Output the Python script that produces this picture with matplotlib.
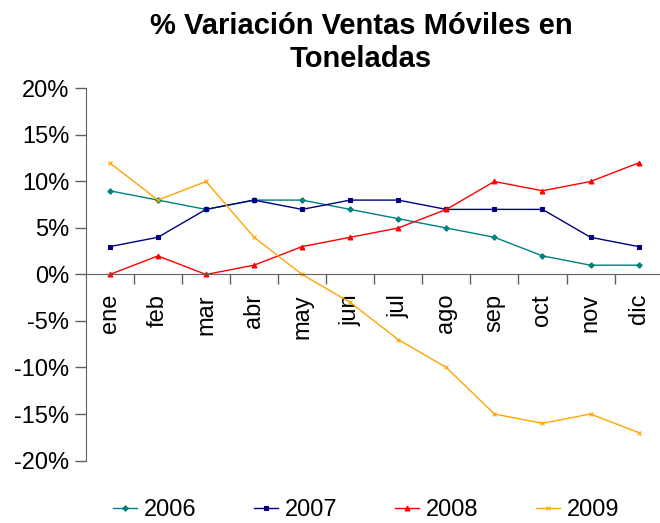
import matplotlib.pyplot as plt
from matplotlib.ticker import FuncFormatter

plt.rcParams['font.family'] = ['Liberation Sans', 'DejaVu Sans']

months = ["ene", "feb", "mar", "abr", "may", "jun",
          "jul", "ago", "sep", "oct", "nov", "dic"]
v2006 = [9, 8, 7, 8, 8, 7, 6, 5, 4, 2, 1, 1]
v2007 = [3, 4, 7, 8, 7, 8, 8, 7, 7, 7, 4, 3]
v2008 = [0, 2, 0, 1, 3, 4, 5, 7, 10, 9, 10, 12]
v2009 = [12, 8, 10, 4, 0, -3, -7, -10, -15, -16, -15, -17]
years = ["2006", "2007", "2008", "2009"]
y_ticks = [-20, -15, -10, -5, 0, 5, 10, 15, 20]

series = [
    (v2006, "#008080", "P", 3.5),
    (v2007, "#000080", "s", 3),
    (v2008, "#FF0000", "^", 3.5),
    (v2009, "#FFA500", "x", 3.5),
]

fig = plt.figure(figsize=(6.6, 5.23), dpi=100)
ax = fig.add_axes([0.130, 0.1195, 0.874, 0.7113])

x = list(range(len(months)))
for (vals, color, marker, ms), label in zip(series, years):
    ax.plot(x, vals, color=color, marker=marker, markersize=ms,
            linewidth=1, markeredgewidth=0.8, label=label, clip_on=False)

ax.set_xlim(-0.5, len(months) - 0.5)
ax.set_ylim(-20, 20)
ax.set_yticks(y_ticks)
ax.yaxis.set_major_formatter(FuncFormatter(lambda v, _: f"{v:.0f}%"))
ax.tick_params(axis='y', labelsize=17, length=8, width=1, color="#606060",
               pad=4)

ax.set_xticks(x)
ax.set_xticklabels(months)
ax.set_xticks([i + 0.5 for i in x[:-1]], minor=True)
ax.tick_params(axis='x', which='major', length=0, pad=14,
               labelsize=17, labelrotation=90)
ax.tick_params(axis='x', which='minor', length=7, width=1,
               color="#606060", direction='out')

for s in ["top", "right"]:
    ax.spines[s].set_visible(False)
ax.spines["bottom"].set_position(("data", 0))
ax.spines["bottom"].set_color("#606060")
ax.spines["left"].set_color("#606060")

fig.text(0.547, 0.978, "% Variación Ventas Móviles en\nToneladas",
         ha="center", va="top", fontsize=21, fontweight="bold",
         linespacing=1.25)

fig.legend(loc="center", bbox_to_anchor=(0.555, 0.024), ncol=4,
           frameon=False, fontsize=17, handlelength=1.0,
           columnspacing=2.45, handletextpad=0.3)

fig.savefig("out.png", dpi=100)
